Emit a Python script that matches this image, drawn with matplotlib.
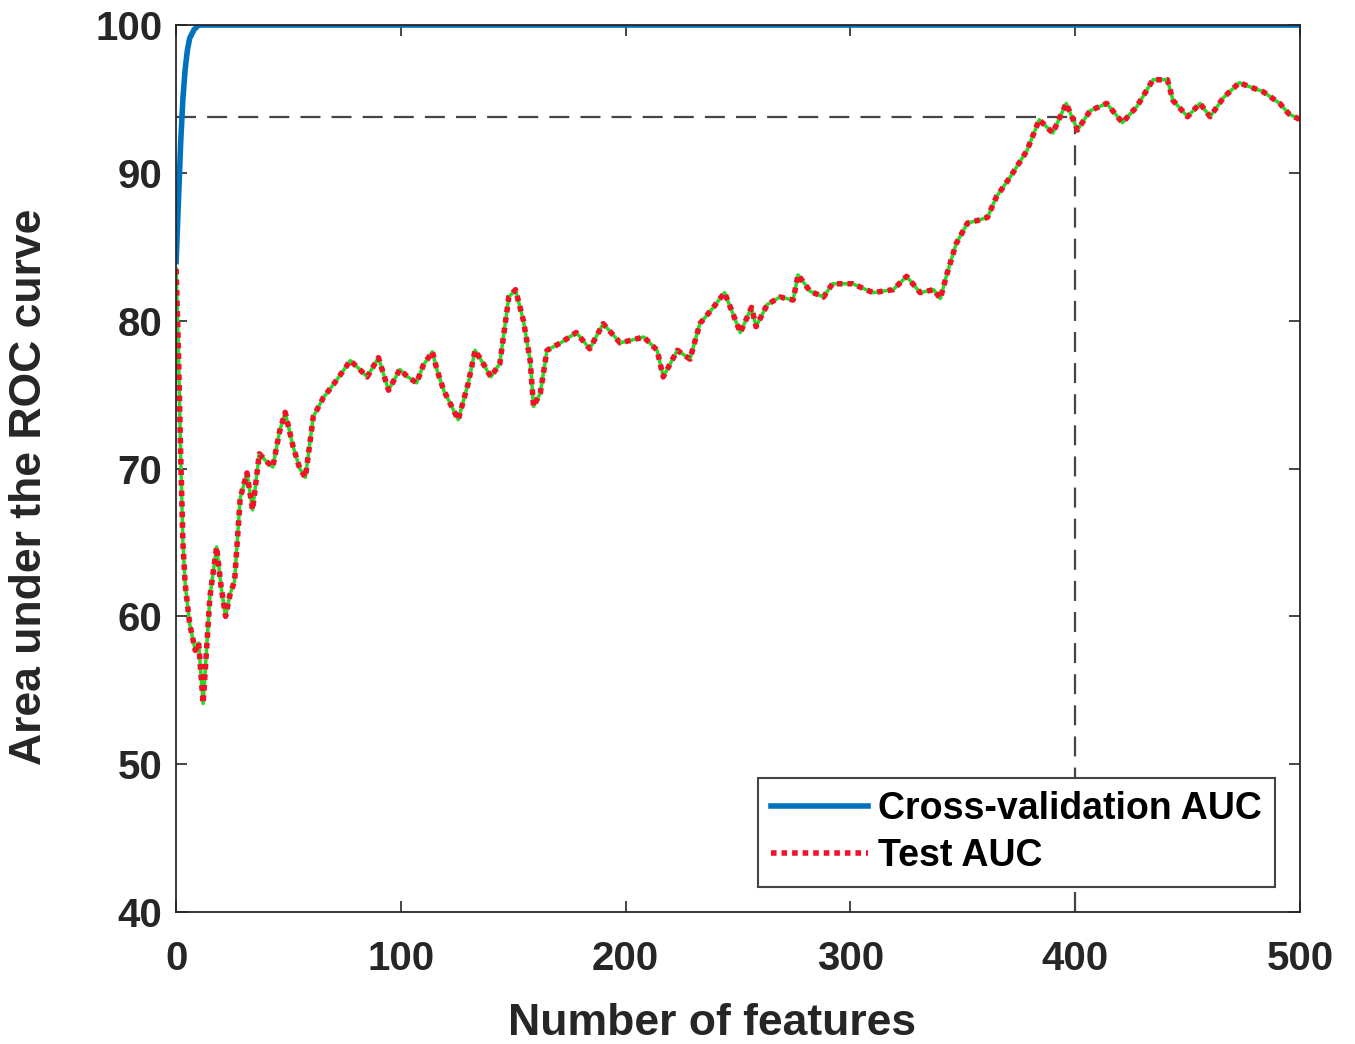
import numpy as np
import matplotlib.pyplot as plt

plt.rcParams['font.family'] = ['Liberation Sans', 'DejaVu Sans']
plt.rcParams['font.weight'] = 'bold'

# Cross-validation AUC (saturates at 100 almost immediately)
cv_x = [0, 1, 2, 3, 4, 5, 6, 8, 10, 500]
cv_auc = [84, 88, 92, 95, 97, 98.3, 99.1, 99.7, 100, 100]

# Test AUC
test_x = [0, 1, 2, 3, 4, 6, 8.5, 10, 12, 15, 18, 20, 22, 24, 26, 28.5, 31.5, 34, 37, 40,
          43, 46, 48.5, 52, 55, 57.5, 61, 65.5, 71.5, 77.5, 81, 85, 90, 94.5, 99.5, 103,
          107, 110, 114, 116, 119, 125.5, 130, 133, 137, 140, 144, 148, 151, 154.5, 157.5,
          159, 162, 165, 171, 178, 184, 190, 197.5, 203, 208, 214, 216.7, 223, 228.6, 233,
          239, 244, 251, 256, 258, 263, 268.7, 274.5, 276.7, 282, 288, 292, 301, 310, 319,
          325, 331, 337, 340, 343, 347, 352, 357, 361, 365, 371, 378.5, 384, 390, 396, 401,
          406.6, 414, 421, 427.5, 434.6, 441, 443.5, 450, 455.5, 460, 466, 473, 478, 483.5,
          491, 495, 500]
test_auc = [83.5, 78, 71, 65, 62.2, 59.5, 57.7, 58.2, 54.1, 61.3, 64.7, 62, 60, 61.5, 62.4,
            68, 69.7, 67.2, 71, 70.5, 70.1, 72.5, 73.8, 71.5, 70, 69.4, 73.5, 74.8, 76, 77.3,
            76.8, 76.2, 77.5, 75.3, 76.7, 76.2, 75.8, 77, 77.9, 76.7, 75.3, 73.3, 75.8, 78,
            77, 76.2, 77.1, 81.6, 82.1, 80, 77.3, 74.2, 75.1, 78, 78.5, 79.2, 78.1, 79.8,
            78.5, 78.7, 78.9, 78, 76.2, 78, 77.4, 79.8, 80.9, 81.9, 79.2, 80.9, 79.6, 81.1,
            81.6, 81.4, 83.1, 82, 81.6, 82.5, 82.5, 81.9, 82.1, 83, 81.9, 82.1, 81.5, 83.2,
            85.2, 86.6, 86.8, 87, 88.4, 89.7, 91.5, 93.6, 92.7, 94.7, 92.9, 94.2, 94.7, 93.4,
            94.5, 96.3, 96.3, 94.9, 93.8, 94.7, 93.8, 95.1, 96.1, 95.8, 95.5, 94.7, 94.0, 93.6]

# selected operating point
sel_x = 400
sel_auc = 93.8

fig = plt.figure(figsize=(13.55, 10.44), dpi=100)
ax = fig.add_axes([0.130, 0.1264, 0.8294, 0.8496])

ax.plot([0, sel_x], [sel_auc, sel_auc], color='#444444', linestyle=(0, (9, 5)), linewidth=1.6)
ax.plot([sel_x, sel_x], [40, sel_auc], color='#444444', linestyle=(0, (9, 5)), linewidth=1.6)

ax.plot(cv_x, cv_auc, color='#0072BD', linewidth=4, label='Cross-validation AUC')
ax.plot(test_x, test_auc, color='#22dd22', linewidth=2.5)
ax.plot(test_x, test_auc, color='#f5102a', linestyle=(0, (1, 0.9)), linewidth=4, label='Test AUC')

ax.set_xlim(0, 500)
ax.set_ylim(40, 100)
ax.set_xticks(np.arange(0, 501, 100))
ax.set_yticks(np.arange(40, 101, 10))
ax.tick_params(direction='in', length=8, width=1.2, top=True, right=True,
               labelsize=29, colors='#262626')
ax.tick_params(axis='x', pad=20)
ax.tick_params(axis='y', pad=10)
for s in ax.spines.values():
    s.set_color('#262626')
    s.set_linewidth(1.3)

ax.set_xlabel('Number of features', fontsize=32, fontweight='bold', color='#262626')
ax.set_ylabel('Area under the ROC curve', fontsize=32, fontweight='bold', color='#262626')
ax.xaxis.set_label_coords(0.477, -0.102)
ax.yaxis.set_label_coords(-0.112, 0.479)

leg = ax.legend(loc='lower right', bbox_to_anchor=(0.978, 0.028), fontsize=27,
                frameon=True, fancybox=False, framealpha=1, edgecolor='#444444',
                handlelength=2.6, handletextpad=0.27, borderpad=0.35, labelspacing=0.3,
                borderaxespad=0)
leg.get_frame().set_linewidth(1.5)

fig.savefig('out.png', dpi=100)
